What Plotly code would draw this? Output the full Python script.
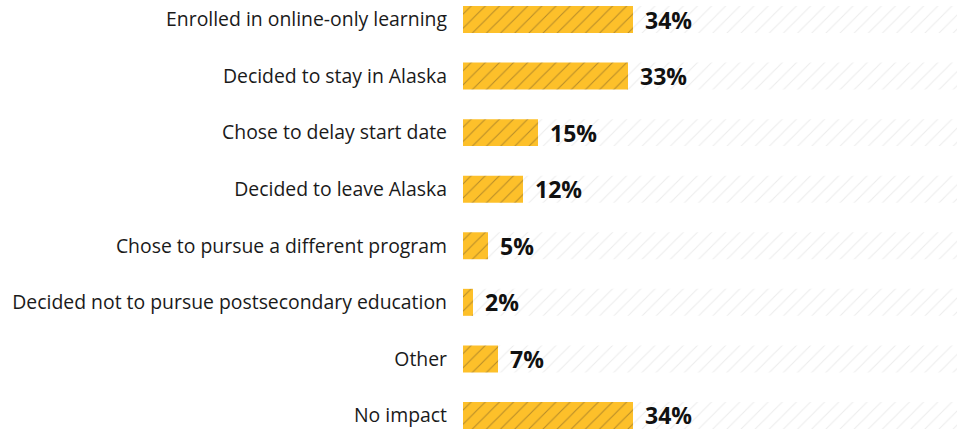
import plotly.graph_objects as go

categories = [
    "Enrolled in online-only learning",
    "Decided to stay in Alaska",
    "Chose to delay start date",
    "Decided to leave Alaska",
    "Chose to pursue a different program",
    "Decided not to pursue postsecondary education",
    "Other",
    "No impact",
]
values = [34, 33, 15, 12, 5, 2, 7, 34]
track = [100] * len(categories)
pos = list(range(len(categories)))

fig = go.Figure()
fig.add_trace(go.Bar(
    y=pos, x=track, orientation="h", width=0.477,
    marker=dict(color="white", line=dict(width=0),
                pattern=dict(shape="/", fgcolor="#d9d9d9", bgcolor="white",
                             size=10, solidity=0.1)),
    hoverinfo="skip", showlegend=False,
))
fig.add_trace(go.Bar(
    y=pos, x=values, orientation="h", width=0.477,
    marker=dict(color="#FDC02A", line=dict(width=0),
                pattern=dict(shape="/", fgcolor="#6f5528", bgcolor="#FDC02A",
                             size=10, solidity=0.1)),
    showlegend=False,
))

for p, v in zip(pos, values):
    fig.add_annotation(x=v, y=p, text=f"<b>{v}%</b>", showarrow=False,
                       xanchor="left", yanchor="middle", xshift=10,
                       font=dict(family="Open Sans", size=23, color="#111111"))

fig.update_layout(
    width=957, height=430,
    margin=dict(l=463, r=0, t=0, b=0),
    barmode="overlay",
    plot_bgcolor="white", paper_bgcolor="white",
    xaxis=dict(range=[0, 98.8], visible=False, fixedrange=True),
    yaxis=dict(range=[7.257, -0.3447], tickvals=pos, ticktext=categories,
               showgrid=False, zeroline=False, showline=False, ticks="",
               ticklabelstandoff=15, fixedrange=True,
               tickfont=dict(family="Open Sans", size=19.4, color="#1a1a1a")),
    font=dict(family="Open Sans"),
)

fig.write_html("out.html", config={"displayModeBar": False},
               post_script="document.body.style.margin='0';document.body.style.overflow='hidden';")
